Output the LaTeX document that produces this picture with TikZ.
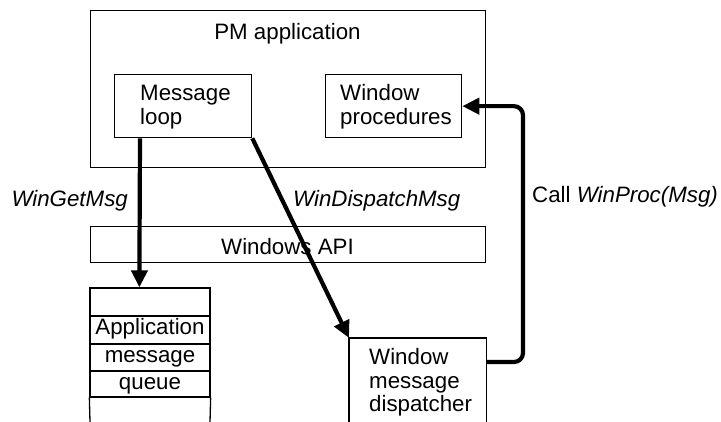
\documentclass[tikz,border=0pt]{standalone}
\usepackage{fontspec}
\setmainfont{Liberation Sans}
\usetikzlibrary{arrows.meta,calc}
\begin{document}
\begin{tikzpicture}[x=1pt,y=-1pt,
  box/.style={draw, line width=1.3pt, inner sep=0pt, anchor=north west},
  txt/.style={inner sep=0pt, font=\fontsize{22.3}{23.5}\selectfont},
  cell/.style={draw, line width=1.3pt, inner sep=0pt, minimum width=120pt, text height=15pt, text depth=5pt, font=\fontsize{22.3}{23.5}\selectfont},
  arr/.style={line width=4.2pt, -{Triangle[length=17pt,width=16pt]}}
]
\useasboundingbox (0,0) rectangle (721,422);
% PM application
\node[box, minimum width=395pt, minimum height=157pt] (pm) at (90,10) {};
\node[txt, anchor=base] (pmt) at (287.5,40) {PM application};
\node[box, minimum width=137pt, minimum height=63pt] (loop) at (114,74) {};
\node[txt, anchor=base west, text width=105pt, align=left] (loopt) at (140,101) {Message\\loop};
\node[box, minimum width=136pt, minimum height=63pt] (wproc) at (325,74) {};
\node[txt, anchor=base west, text width=118pt, align=left] (wproct) at (340,101) {Window\\procedures};
% Windows API
\node[box, minimum width=395pt, minimum height=36pt] (api) at (90,226) {};
\node[txt, anchor=base] (apit) at (287.5,255) {Windows API};
% queue
\node[cell, minimum height=28pt] (q0) at (150,302) {};
\node[cell, minimum height=28pt] (q1) at (150,330) {Application};
\node[cell, minimum height=27pt] (q2) at (150,357.5) {message};
\node[cell, minimum height=26pt] (q3) at (150,384) {queue};
\coordinate (qbl) at (90,422);
\coordinate (qbr) at (210,422);
\draw[line width=1.3pt] (q3.south west) -- (qbl) (q3.south east) -- (qbr);
% dispatcher
\node[anchor=north west, inner sep=0pt, minimum width=137pt, minimum height=84pt] (disp) at (349,338) {};
\draw[line width=1.3pt] (disp.south west) -- (disp.north west) -- (disp.north east) -- (disp.south east);
\node[txt, anchor=base west, text width=115pt, align=left] (dispt) at (369,365) {Window\\message\\dispatcher};
% arrows
\draw[arr] ([xshift=26pt]loop.south west) -- ([xshift=50pt]q0.north west);
\draw[arr] (loop.south east) -- (disp.north west);
\coordinate (callstart) at ($(disp.north east)+(0,24)$);
\coordinate (callx) at (523,362);
\draw[arr, rounded corners=9pt] (callstart) -- (callx) |- (wproc.east);
% labels
\node[txt, anchor=base east] (wgm) at (128,207) {\itshape WinGetMsg};
\node[txt, anchor=base west] (wdm) at (293,207) {\itshape WinDispatchMsg};
\node[txt, anchor=base west] (call) at (532,203) {Call \textit{WinProc(Msg)}};
\end{tikzpicture}
\end{document}
